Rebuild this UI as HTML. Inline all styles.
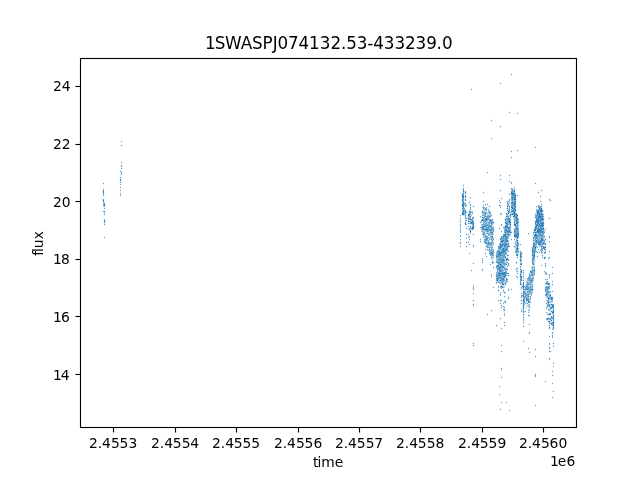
<!DOCTYPE html>
<html lang="en">
<head>
<meta charset="utf-8">
<title>1SWASPJ074132.53-433239.0</title>
<style>
html,body{margin:0;padding:0;background:#fff;}
body{width:640px;height:480px;overflow:hidden;}
svg{display:block;will-change:transform;}
text{font-family:'DejaVu Sans','Liberation Sans',sans-serif;fill:#000;font-variant-ligatures:none;font-kerning:none;}
.t{font-size:13.889px;}
.tt{font-size:16.78px;}
.ax{stroke:#000;stroke-width:1.111;fill:none;}
</style>
</head>
<body>
<svg width="640" height="480" viewBox="0 0 640 480">
<rect x="0" y="0" width="640" height="480" fill="#fff"/>
<g id="pts" fill="none" stroke="#1f77b4" stroke-width="1.35" stroke-linecap="round">
<g stroke-opacity="0.42">
<path d="M462.5 209.5h0M463.5 192.5h0M463.5 200.5h0M463.5 204.5h0M463.5 209.5h0M463.5 212.5h0M468.5 229.5h0M469.5 215.5h0M469.5 223.5h0M469.5 228.5h0M470.5 222.5h0M471.5 215.5h0M472.5 211.5h0M472.5 212.5h0M473.5 218.5h0M473.5 220.5h0M481.5 224.5h0M481.5 231.5h0M482.5 207.5h0M482.5 224.5h0M482.5 229.5h0M482.5 230.5h0M482.5 233.5h0M482.5 234.5h0M483.5 208.5h0M483.5 217.5h0M483.5 219.5h0M483.5 223.5h0M483.5 231.5h0M484.5 207.5h0M484.5 208.5h0M484.5 209.5h0M484.5 210.5h0M484.5 211.5h0M484.5 212.5h0M484.5 215.5h0M484.5 216.5h0M484.5 219.5h0M484.5 225.5h0M485.5 211.5h0M485.5 227.5h0M485.5 228.5h0M485.5 230.5h0M485.5 231.5h0M485.5 234.5h0M485.5 237.5h0M485.5 238.5h0M485.5 240.5h0M486.5 210.5h0M486.5 212.5h0M486.5 213.5h0M486.5 216.5h0M486.5 217.5h0M486.5 222.5h0M486.5 231.5h0M486.5 233.5h0M486.5 237.5h0M487.5 213.5h0M487.5 215.5h0M487.5 217.5h0M487.5 222.5h0M487.5 225.5h0M487.5 226.5h0M487.5 227.5h0M487.5 230.5h0M487.5 232.5h0M487.5 237.5h0M487.5 240.5h0M487.5 242.5h0M487.5 243.5h0M487.5 246.5h0M488.5 209.5h0M488.5 214.5h0M488.5 215.5h0M488.5 218.5h0M488.5 223.5h0M488.5 224.5h0M488.5 229.5h0M488.5 237.5h0M488.5 245.5h0M488.5 250.5h0M489.5 213.5h0M489.5 215.5h0M489.5 217.5h0M489.5 221.5h0M489.5 224.5h0M489.5 227.5h0M489.5 232.5h0M489.5 237.5h0M489.5 244.5h0M489.5 247.5h0M489.5 248.5h0M490.5 214.5h0M490.5 215.5h0M490.5 225.5h0M490.5 227.5h0M490.5 228.5h0M490.5 229.5h0M490.5 231.5h0M490.5 233.5h0M490.5 234.5h0M490.5 235.5h0M490.5 236.5h0M490.5 237.5h0M490.5 242.5h0M490.5 244.5h0M490.5 247.5h0M490.5 253.5h0M491.5 222.5h0M491.5 227.5h0M491.5 229.5h0M491.5 231.5h0M491.5 234.5h0M491.5 240.5h0M491.5 241.5h0M491.5 243.5h0M491.5 248.5h0M491.5 250.5h0M491.5 255.5h0M491.5 256.5h0M492.5 224.5h0M492.5 238.5h0M492.5 241.5h0M492.5 246.5h0M492.5 252.5h0M492.5 255.5h0M492.5 256.5h0M492.5 259.5h0M492.5 261.5h0M492.5 263.5h0M493.5 221.5h0M493.5 226.5h0M493.5 234.5h0M493.5 238.5h0M493.5 249.5h0M493.5 250.5h0M496.5 252.5h0M496.5 253.5h0M496.5 255.5h0M496.5 258.5h0M496.5 262.5h0M496.5 265.5h0M496.5 267.5h0M496.5 268.5h0M496.5 279.5h0M496.5 283.5h0M497.5 250.5h0M497.5 256.5h0M497.5 257.5h0M497.5 258.5h0M497.5 263.5h0M497.5 268.5h0M497.5 273.5h0M497.5 276.5h0M497.5 278.5h0M497.5 281.5h0M498.5 247.5h0M498.5 253.5h0M498.5 257.5h0M498.5 258.5h0M498.5 260.5h0M498.5 261.5h0M498.5 264.5h0M498.5 266.5h0M498.5 267.5h0M498.5 272.5h0M498.5 281.5h0M498.5 287.5h0M499.5 243.5h0M499.5 245.5h0M499.5 249.5h0M499.5 256.5h0M499.5 265.5h0M499.5 266.5h0M499.5 270.5h0M499.5 277.5h0M500.5 249.5h0M500.5 256.5h0M500.5 260.5h0M500.5 263.5h0M500.5 265.5h0M500.5 276.5h0M500.5 281.5h0M500.5 286.5h0M500.5 287.5h0M501.5 245.5h0M501.5 251.5h0M501.5 256.5h0M501.5 257.5h0M501.5 263.5h0M501.5 264.5h0M501.5 266.5h0M501.5 267.5h0M501.5 268.5h0M501.5 271.5h0M501.5 272.5h0M501.5 276.5h0M501.5 277.5h0M501.5 280.5h0M501.5 282.5h0M501.5 284.5h0M501.5 288.5h0M502.5 243.5h0M502.5 251.5h0M502.5 253.5h0M502.5 257.5h0M502.5 258.5h0M502.5 263.5h0M502.5 264.5h0M502.5 265.5h0M502.5 270.5h0M503.5 235.5h0M503.5 239.5h0M503.5 241.5h0M503.5 242.5h0M503.5 243.5h0M503.5 246.5h0M503.5 247.5h0M503.5 253.5h0M503.5 256.5h0M503.5 258.5h0M503.5 261.5h0M503.5 275.5h0M503.5 277.5h0M503.5 282.5h0M503.5 291.5h0M504.5 227.5h0M504.5 231.5h0M504.5 239.5h0M504.5 240.5h0M504.5 243.5h0M504.5 252.5h0M504.5 257.5h0M504.5 259.5h0M504.5 262.5h0M504.5 267.5h0M504.5 278.5h0M504.5 279.5h0M504.5 286.5h0M505.5 223.5h0M505.5 228.5h0M505.5 235.5h0M505.5 246.5h0M505.5 248.5h0M505.5 250.5h0M505.5 256.5h0M505.5 258.5h0M505.5 259.5h0M505.5 264.5h0M505.5 266.5h0M505.5 269.5h0M505.5 271.5h0M505.5 273.5h0M505.5 293.5h0M506.5 214.5h0M506.5 219.5h0M506.5 220.5h0M506.5 228.5h0M506.5 239.5h0M506.5 242.5h0M506.5 243.5h0M506.5 245.5h0M506.5 247.5h0M507.5 201.5h0M507.5 217.5h0M507.5 218.5h0M507.5 222.5h0M507.5 228.5h0M507.5 238.5h0M507.5 239.5h0M507.5 242.5h0M507.5 245.5h0M508.5 203.5h0M508.5 209.5h0M508.5 222.5h0M508.5 223.5h0M508.5 226.5h0M508.5 232.5h0M508.5 235.5h0M508.5 237.5h0M508.5 238.5h0M508.5 240.5h0M508.5 241.5h0M508.5 245.5h0M509.5 202.5h0M509.5 203.5h0M509.5 207.5h0M509.5 209.5h0M509.5 215.5h0M509.5 223.5h0M509.5 224.5h0M509.5 226.5h0M509.5 230.5h0M509.5 234.5h0M510.5 212.5h0M510.5 217.5h0M510.5 221.5h0M510.5 223.5h0M510.5 225.5h0M511.5 197.5h0"/>
<path d="M511.5 200.5h0M511.5 204.5h0M512.5 190.5h0M512.5 195.5h0M512.5 204.5h0M512.5 209.5h0M512.5 210.5h0M513.5 190.5h0M513.5 196.5h0M513.5 197.5h0M513.5 200.5h0M513.5 201.5h0M513.5 202.5h0M513.5 205.5h0M513.5 206.5h0M513.5 207.5h0M514.5 192.5h0M514.5 194.5h0M514.5 201.5h0M514.5 204.5h0M514.5 217.5h0M514.5 221.5h0M514.5 223.5h0M514.5 230.5h0M514.5 233.5h0M515.5 193.5h0M515.5 194.5h0M515.5 215.5h0M515.5 218.5h0M515.5 219.5h0M515.5 220.5h0M515.5 221.5h0M515.5 223.5h0M515.5 226.5h0M515.5 227.5h0M515.5 229.5h0M515.5 232.5h0M515.5 241.5h0M515.5 242.5h0M515.5 244.5h0M515.5 249.5h0M516.5 225.5h0M516.5 231.5h0M516.5 234.5h0M516.5 237.5h0M516.5 240.5h0M516.5 243.5h0M516.5 250.5h0M517.5 216.5h0M517.5 217.5h0M517.5 221.5h0M517.5 224.5h0M517.5 226.5h0M517.5 227.5h0M517.5 235.5h0M517.5 253.5h0M518.5 224.5h0M518.5 225.5h0M518.5 226.5h0M518.5 229.5h0M518.5 230.5h0M518.5 236.5h0M518.5 245.5h0M520.5 261.5h0M520.5 280.5h0M523.5 298.5h0M523.5 310.5h0M524.5 289.5h0M524.5 292.5h0M524.5 294.5h0M524.5 299.5h0M524.5 301.5h0M524.5 304.5h0M525.5 286.5h0M525.5 293.5h0M525.5 295.5h0M525.5 297.5h0M525.5 298.5h0M525.5 302.5h0M525.5 303.5h0M526.5 281.5h0M526.5 283.5h0M526.5 286.5h0M526.5 292.5h0M526.5 293.5h0M526.5 294.5h0M526.5 297.5h0M526.5 301.5h0M526.5 303.5h0M526.5 307.5h0M527.5 278.5h0M527.5 279.5h0M527.5 280.5h0M527.5 281.5h0M527.5 283.5h0M527.5 285.5h0M527.5 288.5h0M527.5 292.5h0M527.5 293.5h0M527.5 295.5h0M527.5 305.5h0M528.5 282.5h0M528.5 286.5h0M528.5 290.5h0M528.5 291.5h0M528.5 295.5h0M528.5 298.5h0M528.5 300.5h0M528.5 304.5h0M529.5 281.5h0M529.5 283.5h0M529.5 285.5h0M529.5 288.5h0M529.5 290.5h0M529.5 292.5h0M529.5 293.5h0M529.5 294.5h0M529.5 296.5h0M529.5 299.5h0M529.5 302.5h0M529.5 304.5h0M530.5 272.5h0M530.5 276.5h0M530.5 278.5h0M530.5 281.5h0M530.5 283.5h0M530.5 289.5h0M530.5 292.5h0M530.5 297.5h0M530.5 299.5h0M531.5 267.5h0M531.5 270.5h0M531.5 273.5h0M531.5 278.5h0M531.5 282.5h0M531.5 283.5h0M531.5 284.5h0M531.5 287.5h0M531.5 288.5h0M531.5 292.5h0M531.5 293.5h0M531.5 295.5h0M532.5 258.5h0M532.5 263.5h0M532.5 265.5h0M532.5 266.5h0M532.5 272.5h0M532.5 273.5h0M532.5 277.5h0M532.5 279.5h0M532.5 280.5h0M532.5 282.5h0M532.5 287.5h0M532.5 288.5h0M533.5 243.5h0M533.5 245.5h0M533.5 259.5h0M533.5 262.5h0M533.5 267.5h0M533.5 269.5h0M533.5 278.5h0M533.5 279.5h0M533.5 280.5h0M534.5 228.5h0M534.5 231.5h0M534.5 232.5h0M534.5 237.5h0M534.5 239.5h0M534.5 242.5h0M534.5 251.5h0M534.5 258.5h0M534.5 262.5h0M534.5 264.5h0M534.5 266.5h0M534.5 269.5h0M534.5 272.5h0M534.5 274.5h0M535.5 215.5h0M535.5 216.5h0M535.5 222.5h0M535.5 243.5h0M536.5 213.5h0M536.5 218.5h0M536.5 229.5h0M536.5 231.5h0M536.5 233.5h0M536.5 234.5h0M537.5 216.5h0M537.5 217.5h0M537.5 222.5h0M537.5 226.5h0M537.5 227.5h0M537.5 234.5h0M537.5 237.5h0M537.5 239.5h0M537.5 240.5h0M538.5 206.5h0M538.5 209.5h0M538.5 219.5h0M538.5 224.5h0M538.5 225.5h0M538.5 227.5h0M538.5 234.5h0M538.5 235.5h0M538.5 237.5h0M538.5 241.5h0M539.5 207.5h0M539.5 210.5h0M539.5 211.5h0M539.5 218.5h0M539.5 220.5h0M539.5 221.5h0M539.5 227.5h0M539.5 228.5h0M539.5 230.5h0M539.5 236.5h0M539.5 237.5h0M539.5 239.5h0M540.5 212.5h0M540.5 213.5h0M540.5 215.5h0M540.5 218.5h0M540.5 222.5h0M540.5 224.5h0M540.5 229.5h0M540.5 233.5h0M540.5 236.5h0M540.5 237.5h0M540.5 238.5h0M541.5 212.5h0M541.5 217.5h0M541.5 227.5h0M541.5 233.5h0M541.5 234.5h0M541.5 237.5h0M541.5 243.5h0M542.5 213.5h0M542.5 215.5h0M542.5 235.5h0M542.5 237.5h0M543.5 234.5h0M543.5 239.5h0M543.5 244.5h0M544.5 231.5h0M544.5 237.5h0M545.5 283.5h0M545.5 284.5h0M545.5 288.5h0M545.5 294.5h0M546.5 292.5h0M546.5 295.5h0M546.5 296.5h0M546.5 297.5h0M546.5 300.5h0M546.5 307.5h0M547.5 282.5h0M547.5 286.5h0M547.5 290.5h0M547.5 296.5h0M547.5 304.5h0M548.5 286.5h0M548.5 300.5h0M548.5 303.5h0M549.5 292.5h0M549.5 293.5h0M549.5 297.5h0M549.5 301.5h0M549.5 302.5h0M549.5 307.5h0M550.5 291.5h0M550.5 292.5h0M550.5 294.5h0M550.5 299.5h0M550.5 301.5h0M550.5 302.5h0M552.5 299.5h0M552.5 300.5h0M553.5 304.5h0M553.5 308.5h0M553.5 314.5h0"/>
</g>
<g stroke-opacity="0.68">
<path d="M103.5 183.5h0M103.5 189.5h0M103.5 190.5h0M103.5 193.5h0M103.5 194.5h0M103.5 195.5h0M103.5 199.5h0M103.5 201.5h0M103.5 202.5h0M103.5 204.5h0M103.5 205.5h0M103.5 211.5h0M104.5 203.5h0M104.5 205.5h0M104.5 206.5h0M104.5 208.5h0M104.5 211.5h0M104.5 212.5h0M104.5 214.5h0M104.5 219.5h0M104.5 220.5h0M104.5 222.5h0M104.5 224.5h0M104.5 237.5h0M120.5 171.5h0M120.5 177.5h0M120.5 179.5h0M120.5 182.5h0M120.5 184.5h0M120.5 187.5h0M120.5 190.5h0M120.5 193.5h0M120.5 195.5h0M121.5 141.5h0M121.5 145.5h0M121.5 162.5h0M121.5 165.5h0M121.5 166.5h0M121.5 168.5h0M121.5 172.5h0M121.5 173.5h0M121.5 174.5h0M460.5 215.5h0M460.5 218.5h0M460.5 220.5h0M460.5 222.5h0M460.5 224.5h0M460.5 226.5h0M460.5 228.5h0M460.5 230.5h0M460.5 231.5h0M460.5 232.5h0M460.5 235.5h0M460.5 236.5h0M460.5 239.5h0M460.5 242.5h0M460.5 243.5h0M460.5 246.5h0M462.5 195.5h0M462.5 201.5h0M462.5 203.5h0M462.5 206.5h0M462.5 208.5h0M462.5 211.5h0M462.5 212.5h0M463.5 185.5h0M463.5 188.5h0M463.5 189.5h0M463.5 196.5h0M463.5 198.5h0M463.5 199.5h0M463.5 201.5h0M463.5 208.5h0M464.5 203.5h0M464.5 204.5h0M464.5 208.5h0M464.5 209.5h0M464.5 210.5h0M464.5 212.5h0M464.5 214.5h0M465.5 191.5h0M465.5 193.5h0M465.5 195.5h0M465.5 197.5h0M465.5 200.5h0M465.5 203.5h0M465.5 205.5h0M465.5 206.5h0M465.5 210.5h0M465.5 212.5h0M465.5 213.5h0M465.5 215.5h0M465.5 216.5h0M465.5 217.5h0M465.5 218.5h0M465.5 220.5h0M465.5 222.5h0M465.5 224.5h0M466.5 205.5h0M466.5 212.5h0M466.5 218.5h0M466.5 220.5h0M466.5 224.5h0M466.5 228.5h0M466.5 234.5h0M466.5 238.5h0M466.5 242.5h0M466.5 246.5h0M468.5 214.5h0M468.5 218.5h0M468.5 219.5h0M468.5 223.5h0M468.5 226.5h0M468.5 234.5h0M468.5 237.5h0M468.5 242.5h0M469.5 202.5h0M469.5 212.5h0M469.5 213.5h0M469.5 216.5h0M469.5 218.5h0M469.5 219.5h0M469.5 221.5h0M469.5 229.5h0M469.5 236.5h0M469.5 239.5h0M469.5 244.5h0M469.5 253.5h0M470.5 197.5h0M470.5 204.5h0M470.5 205.5h0M470.5 207.5h0M470.5 208.5h0M470.5 209.5h0M470.5 211.5h0M470.5 212.5h0M470.5 214.5h0M470.5 218.5h0M470.5 221.5h0M470.5 223.5h0M470.5 226.5h0M470.5 227.5h0M470.5 228.5h0M470.5 230.5h0M470.5 232.5h0M471.5 89.5h0M471.5 212.5h0M471.5 219.5h0M471.5 220.5h0M471.5 228.5h0M471.5 270.5h0M472.5 213.5h0M472.5 217.5h0M472.5 218.5h0M472.5 219.5h0M472.5 220.5h0M472.5 222.5h0M472.5 223.5h0M472.5 224.5h0M472.5 226.5h0M472.5 229.5h0M473.5 206.5h0M473.5 217.5h0M473.5 224.5h0M473.5 226.5h0M473.5 234.5h0M473.5 245.5h0M473.5 246.5h0M473.5 263.5h0M473.5 285.5h0M473.5 287.5h0M473.5 288.5h0M473.5 289.5h0M473.5 293.5h0M473.5 300.5h0M473.5 304.5h0M473.5 305.5h0M473.5 343.5h0M473.5 345.5h0M480.5 216.5h0M480.5 222.5h0M480.5 227.5h0M480.5 239.5h0M480.5 241.5h0M481.5 220.5h0M481.5 221.5h0M481.5 227.5h0M481.5 229.5h0M482.5 212.5h0M482.5 213.5h0M482.5 215.5h0M482.5 225.5h0M482.5 226.5h0M482.5 228.5h0M482.5 231.5h0M482.5 258.5h0M482.5 260.5h0M482.5 262.5h0M482.5 269.5h0M482.5 270.5h0M483.5 192.5h0M483.5 201.5h0M483.5 205.5h0M483.5 207.5h0M483.5 209.5h0M483.5 212.5h0M483.5 213.5h0M483.5 215.5h0M483.5 218.5h0M483.5 220.5h0M483.5 221.5h0M483.5 222.5h0M483.5 224.5h0M483.5 227.5h0M483.5 228.5h0M483.5 232.5h0M483.5 233.5h0M483.5 234.5h0M483.5 235.5h0M483.5 237.5h0M484.5 214.5h0M484.5 217.5h0M484.5 220.5h0M484.5 222.5h0M484.5 224.5h0M484.5 228.5h0M484.5 229.5h0M484.5 230.5h0M484.5 232.5h0M484.5 233.5h0M484.5 234.5h0M484.5 236.5h0M484.5 239.5h0M484.5 240.5h0M484.5 241.5h0M484.5 242.5h0M485.5 204.5h0M485.5 208.5h0M485.5 209.5h0M485.5 212.5h0M485.5 214.5h0M485.5 215.5h0M485.5 218.5h0M485.5 220.5h0M485.5 221.5h0M485.5 223.5h0M485.5 224.5h0M485.5 225.5h0M485.5 226.5h0M485.5 229.5h0M485.5 235.5h0M485.5 236.5h0M485.5 239.5h0M485.5 241.5h0M485.5 242.5h0M485.5 243.5h0M485.5 249.5h0M485.5 253.5h0M486.5 207.5h0M486.5 208.5h0M486.5 209.5h0M486.5 219.5h0M486.5 220.5h0M486.5 221.5h0M486.5 223.5h0M486.5 226.5h0M486.5 227.5h0M486.5 228.5h0M486.5 230.5h0M486.5 236.5h0M486.5 239.5h0M486.5 240.5h0M486.5 243.5h0M486.5 256.5h0M487.5 172.5h0M487.5 204.5h0M487.5 216.5h0M487.5 218.5h0M487.5 219.5h0M487.5 220.5h0M487.5 224.5h0M487.5 228.5h0M487.5 231.5h0M487.5 233.5h0M487.5 236.5h0M487.5 238.5h0M487.5 239.5h0M487.5 244.5h0M487.5 245.5h0M487.5 247.5h0M487.5 249.5h0M487.5 314.5h0M488.5 210.5h0M488.5 212.5h0M488.5 216.5h0M488.5 217.5h0M488.5 219.5h0M488.5 222.5h0M488.5 225.5h0M488.5 226.5h0"/>
<path d="M488.5 227.5h0M488.5 228.5h0M488.5 230.5h0M488.5 231.5h0M488.5 233.5h0M488.5 234.5h0M488.5 235.5h0M488.5 240.5h0M488.5 241.5h0M488.5 242.5h0M488.5 244.5h0M488.5 247.5h0M489.5 206.5h0M489.5 211.5h0M489.5 212.5h0M489.5 216.5h0M489.5 219.5h0M489.5 220.5h0M489.5 222.5h0M489.5 223.5h0M489.5 225.5h0M489.5 226.5h0M489.5 228.5h0M489.5 229.5h0M489.5 230.5h0M489.5 234.5h0M489.5 238.5h0M489.5 239.5h0M489.5 242.5h0M489.5 243.5h0M489.5 246.5h0M489.5 251.5h0M489.5 253.5h0M490.5 212.5h0M490.5 213.5h0M490.5 216.5h0M490.5 219.5h0M490.5 221.5h0M490.5 222.5h0M490.5 232.5h0M490.5 243.5h0M490.5 245.5h0M490.5 250.5h0M490.5 251.5h0M490.5 252.5h0M490.5 254.5h0M490.5 255.5h0M490.5 264.5h0M491.5 120.5h0M491.5 138.5h0M491.5 215.5h0M491.5 220.5h0M491.5 221.5h0M491.5 224.5h0M491.5 225.5h0M491.5 226.5h0M491.5 228.5h0M491.5 230.5h0M491.5 232.5h0M491.5 233.5h0M491.5 238.5h0M491.5 242.5h0M491.5 244.5h0M491.5 245.5h0M491.5 247.5h0M491.5 249.5h0M491.5 253.5h0M491.5 254.5h0M491.5 257.5h0M491.5 258.5h0M491.5 274.5h0M491.5 276.5h0M491.5 310.5h0M492.5 221.5h0M492.5 222.5h0M492.5 223.5h0M492.5 227.5h0M492.5 228.5h0M492.5 229.5h0M492.5 230.5h0M492.5 233.5h0M492.5 234.5h0M492.5 236.5h0M492.5 240.5h0M492.5 243.5h0M492.5 247.5h0M492.5 249.5h0M492.5 250.5h0M492.5 251.5h0M492.5 254.5h0M493.5 222.5h0M493.5 228.5h0M493.5 229.5h0M493.5 230.5h0M493.5 231.5h0M493.5 239.5h0M493.5 242.5h0M493.5 244.5h0M493.5 251.5h0M493.5 252.5h0M493.5 253.5h0M493.5 255.5h0M493.5 257.5h0M493.5 262.5h0M493.5 267.5h0M493.5 287.5h0M496.5 254.5h0M496.5 257.5h0M496.5 260.5h0M496.5 261.5h0M496.5 266.5h0M496.5 272.5h0M496.5 280.5h0M496.5 282.5h0M496.5 325.5h0M497.5 252.5h0M497.5 253.5h0M497.5 254.5h0M497.5 255.5h0M497.5 259.5h0M497.5 261.5h0M497.5 262.5h0M497.5 265.5h0M497.5 267.5h0M497.5 269.5h0M497.5 270.5h0M497.5 271.5h0M497.5 272.5h0M497.5 277.5h0M497.5 279.5h0M498.5 246.5h0M498.5 248.5h0M498.5 250.5h0M498.5 251.5h0M498.5 252.5h0M498.5 255.5h0M498.5 262.5h0M498.5 263.5h0M498.5 268.5h0M498.5 269.5h0M498.5 274.5h0M498.5 275.5h0M498.5 276.5h0M498.5 277.5h0M498.5 279.5h0M498.5 282.5h0M498.5 286.5h0M498.5 300.5h0M499.5 200.5h0M499.5 205.5h0M499.5 228.5h0M499.5 246.5h0M499.5 247.5h0M499.5 248.5h0M499.5 250.5h0M499.5 251.5h0M499.5 254.5h0M499.5 255.5h0M499.5 257.5h0M499.5 258.5h0M499.5 259.5h0M499.5 260.5h0M499.5 261.5h0M499.5 263.5h0M499.5 264.5h0M499.5 268.5h0M499.5 272.5h0M499.5 274.5h0M499.5 276.5h0M499.5 278.5h0M499.5 280.5h0M499.5 282.5h0M499.5 386.5h0M499.5 394.5h0M500.5 83.5h0M500.5 126.5h0M500.5 175.5h0M500.5 179.5h0M500.5 190.5h0M500.5 202.5h0M500.5 205.5h0M500.5 207.5h0M500.5 213.5h0M500.5 238.5h0M500.5 241.5h0M500.5 243.5h0M500.5 246.5h0M500.5 248.5h0M500.5 251.5h0M500.5 252.5h0M500.5 254.5h0M500.5 257.5h0M500.5 258.5h0M500.5 259.5h0M500.5 261.5h0M500.5 262.5h0M500.5 268.5h0M500.5 271.5h0M500.5 272.5h0M500.5 273.5h0M500.5 274.5h0M500.5 275.5h0M500.5 277.5h0M500.5 278.5h0M500.5 283.5h0M500.5 292.5h0M500.5 294.5h0M500.5 295.5h0M500.5 300.5h0M500.5 303.5h0M500.5 318.5h0M500.5 409.5h0M501.5 198.5h0M501.5 214.5h0M501.5 224.5h0M501.5 225.5h0M501.5 231.5h0M501.5 236.5h0M501.5 237.5h0M501.5 240.5h0M501.5 242.5h0M501.5 244.5h0M501.5 247.5h0M501.5 249.5h0M501.5 250.5h0M501.5 253.5h0M501.5 254.5h0M501.5 255.5h0M501.5 258.5h0M501.5 259.5h0M501.5 260.5h0M501.5 261.5h0M501.5 262.5h0M501.5 269.5h0M501.5 270.5h0M501.5 274.5h0M501.5 275.5h0M501.5 281.5h0M501.5 287.5h0M501.5 300.5h0M501.5 305.5h0M501.5 307.5h0M501.5 328.5h0M501.5 345.5h0M501.5 351.5h0M501.5 368.5h0M501.5 369.5h0M501.5 377.5h0M501.5 402.5h0M502.5 236.5h0M502.5 238.5h0M502.5 239.5h0M502.5 240.5h0M502.5 242.5h0M502.5 245.5h0M502.5 246.5h0M502.5 248.5h0M502.5 249.5h0M502.5 252.5h0M502.5 254.5h0M502.5 255.5h0M502.5 256.5h0M502.5 259.5h0M502.5 261.5h0M502.5 262.5h0M502.5 266.5h0M502.5 268.5h0M502.5 269.5h0M502.5 271.5h0M502.5 272.5h0M502.5 274.5h0M502.5 275.5h0M502.5 276.5h0M502.5 277.5h0M502.5 278.5h0M502.5 279.5h0M502.5 280.5h0M502.5 282.5h0M502.5 286.5h0M502.5 287.5h0M503.5 227.5h0M503.5 234.5h0M503.5 238.5h0M503.5 250.5h0M503.5 254.5h0M503.5 255.5h0M503.5 257.5h0M503.5 260.5h0M503.5 262.5h0M503.5 263.5h0M503.5 264.5h0M503.5 267.5h0M503.5 270.5h0M503.5 272.5h0M503.5 274.5h0M503.5 276.5h0M503.5 278.5h0M503.5 280.5h0M503.5 281.5h0M503.5 287.5h0"/>
<path d="M503.5 290.5h0M503.5 303.5h0M503.5 306.5h0M503.5 309.5h0M504.5 228.5h0M504.5 230.5h0M504.5 232.5h0M504.5 234.5h0M504.5 236.5h0M504.5 238.5h0M504.5 241.5h0M504.5 242.5h0M504.5 244.5h0M504.5 246.5h0M504.5 247.5h0M504.5 248.5h0M504.5 249.5h0M504.5 255.5h0M504.5 256.5h0M504.5 260.5h0M504.5 261.5h0M504.5 263.5h0M504.5 264.5h0M504.5 265.5h0M504.5 268.5h0M504.5 269.5h0M504.5 274.5h0M504.5 275.5h0M504.5 280.5h0M504.5 283.5h0M504.5 296.5h0M504.5 301.5h0M504.5 307.5h0M504.5 309.5h0M504.5 310.5h0M504.5 313.5h0M504.5 315.5h0M504.5 322.5h0M504.5 325.5h0M505.5 218.5h0M505.5 219.5h0M505.5 225.5h0M505.5 230.5h0M505.5 231.5h0M505.5 232.5h0M505.5 233.5h0M505.5 237.5h0M505.5 238.5h0M505.5 240.5h0M505.5 241.5h0M505.5 242.5h0M505.5 245.5h0M505.5 247.5h0M505.5 249.5h0M505.5 251.5h0M505.5 252.5h0M505.5 263.5h0M505.5 268.5h0M505.5 270.5h0M505.5 274.5h0M505.5 276.5h0M505.5 281.5h0M505.5 282.5h0M505.5 301.5h0M505.5 302.5h0M506.5 218.5h0M506.5 221.5h0M506.5 222.5h0M506.5 224.5h0M506.5 225.5h0M506.5 227.5h0M506.5 229.5h0M506.5 231.5h0M506.5 232.5h0M506.5 234.5h0M506.5 235.5h0M506.5 236.5h0M506.5 241.5h0M506.5 246.5h0M506.5 248.5h0M506.5 250.5h0M506.5 252.5h0M506.5 254.5h0M506.5 258.5h0M506.5 259.5h0M506.5 262.5h0M506.5 268.5h0M506.5 269.5h0M506.5 271.5h0M506.5 272.5h0M506.5 273.5h0M506.5 275.5h0M506.5 280.5h0M506.5 282.5h0M506.5 402.5h0M507.5 202.5h0M507.5 203.5h0M507.5 205.5h0M507.5 214.5h0M507.5 215.5h0M507.5 216.5h0M507.5 219.5h0M507.5 221.5h0M507.5 223.5h0M507.5 224.5h0M507.5 225.5h0M507.5 226.5h0M507.5 230.5h0M507.5 232.5h0M507.5 233.5h0M507.5 234.5h0M507.5 236.5h0M507.5 237.5h0M507.5 240.5h0M507.5 244.5h0M507.5 246.5h0M507.5 247.5h0M507.5 248.5h0M507.5 249.5h0M507.5 250.5h0M507.5 255.5h0M507.5 258.5h0M507.5 262.5h0M507.5 266.5h0M507.5 269.5h0M507.5 279.5h0M507.5 281.5h0M508.5 201.5h0M508.5 204.5h0M508.5 205.5h0M508.5 212.5h0M508.5 216.5h0M508.5 217.5h0M508.5 218.5h0M508.5 220.5h0M508.5 221.5h0M508.5 224.5h0M508.5 227.5h0M508.5 230.5h0M508.5 231.5h0M508.5 233.5h0M508.5 236.5h0M508.5 244.5h0M508.5 251.5h0M508.5 255.5h0M508.5 259.5h0M508.5 260.5h0M508.5 263.5h0M508.5 264.5h0M508.5 265.5h0M508.5 273.5h0M508.5 275.5h0M508.5 289.5h0M508.5 290.5h0M508.5 297.5h0M508.5 298.5h0M509.5 112.5h0M509.5 175.5h0M509.5 181.5h0M509.5 194.5h0M509.5 199.5h0M509.5 200.5h0M509.5 206.5h0M509.5 208.5h0M509.5 210.5h0M509.5 211.5h0M509.5 212.5h0M509.5 219.5h0M509.5 220.5h0M509.5 227.5h0M509.5 228.5h0M509.5 229.5h0M509.5 232.5h0M509.5 235.5h0M509.5 246.5h0M509.5 410.5h0M510.5 215.5h0M510.5 216.5h0M510.5 219.5h0M510.5 220.5h0M510.5 226.5h0M510.5 227.5h0M510.5 228.5h0M510.5 230.5h0M510.5 231.5h0M510.5 234.5h0M511.5 74.5h0M511.5 151.5h0M511.5 157.5h0M511.5 182.5h0M511.5 183.5h0M511.5 188.5h0M511.5 189.5h0M511.5 191.5h0M511.5 196.5h0M511.5 198.5h0M511.5 199.5h0M511.5 203.5h0M511.5 205.5h0M511.5 206.5h0M511.5 209.5h0M511.5 210.5h0M511.5 211.5h0M511.5 212.5h0M511.5 214.5h0M511.5 232.5h0M511.5 239.5h0M511.5 289.5h0M512.5 191.5h0M512.5 192.5h0M512.5 196.5h0M512.5 199.5h0M512.5 200.5h0M512.5 201.5h0M512.5 203.5h0M512.5 205.5h0M512.5 206.5h0M512.5 213.5h0M513.5 191.5h0M513.5 192.5h0M513.5 193.5h0M513.5 195.5h0M513.5 198.5h0M513.5 199.5h0M513.5 203.5h0M513.5 208.5h0M513.5 209.5h0M513.5 211.5h0M513.5 212.5h0M513.5 213.5h0M513.5 214.5h0M514.5 187.5h0M514.5 189.5h0M514.5 190.5h0M514.5 196.5h0M514.5 198.5h0M514.5 200.5h0M514.5 206.5h0M514.5 207.5h0M514.5 209.5h0M514.5 210.5h0M514.5 211.5h0M514.5 214.5h0M514.5 218.5h0M514.5 219.5h0M514.5 220.5h0M514.5 225.5h0M514.5 232.5h0M514.5 235.5h0M514.5 239.5h0M515.5 196.5h0M515.5 198.5h0M515.5 202.5h0M515.5 203.5h0M515.5 207.5h0M515.5 211.5h0M515.5 214.5h0M515.5 216.5h0M515.5 217.5h0M515.5 228.5h0M515.5 230.5h0M515.5 231.5h0M515.5 233.5h0M515.5 234.5h0M515.5 237.5h0M515.5 243.5h0M515.5 247.5h0M515.5 251.5h0M515.5 252.5h0M516.5 215.5h0M516.5 216.5h0M516.5 218.5h0M516.5 221.5h0M516.5 222.5h0M516.5 226.5h0M516.5 228.5h0M516.5 229.5h0M516.5 230.5h0M516.5 232.5h0M516.5 233.5h0M516.5 236.5h0M516.5 239.5h0M516.5 241.5h0M516.5 248.5h0M516.5 249.5h0M516.5 251.5h0M516.5 252.5h0M516.5 254.5h0M516.5 255.5h0M516.5 268.5h0M516.5 270.5h0M516.5 276.5h0M517.5 113.5h0M517.5 150.5h0M517.5 195.5h0M517.5 218.5h0M517.5 220.5h0M517.5 225.5h0M517.5 230.5h0M517.5 231.5h0"/>
<path d="M517.5 232.5h0M517.5 233.5h0M517.5 241.5h0M517.5 243.5h0M517.5 244.5h0M517.5 247.5h0M517.5 251.5h0M517.5 257.5h0M517.5 268.5h0M517.5 271.5h0M517.5 273.5h0M517.5 277.5h0M518.5 219.5h0M518.5 221.5h0M518.5 222.5h0M518.5 228.5h0M518.5 231.5h0M518.5 232.5h0M518.5 235.5h0M518.5 237.5h0M518.5 243.5h0M518.5 244.5h0M518.5 248.5h0M518.5 251.5h0M518.5 252.5h0M520.5 244.5h0M520.5 251.5h0M520.5 252.5h0M520.5 253.5h0M520.5 254.5h0M520.5 257.5h0M520.5 258.5h0M520.5 260.5h0M520.5 263.5h0M520.5 264.5h0M520.5 266.5h0M520.5 267.5h0M520.5 271.5h0M520.5 272.5h0M520.5 277.5h0M520.5 281.5h0M520.5 282.5h0M521.5 252.5h0M521.5 253.5h0M521.5 256.5h0M521.5 257.5h0M521.5 260.5h0M521.5 261.5h0M521.5 263.5h0M521.5 270.5h0M521.5 272.5h0M521.5 273.5h0M521.5 276.5h0M521.5 278.5h0M521.5 279.5h0M521.5 284.5h0M521.5 287.5h0M521.5 288.5h0M521.5 293.5h0M521.5 295.5h0M521.5 296.5h0M521.5 297.5h0M521.5 303.5h0M521.5 309.5h0M521.5 311.5h0M522.5 295.5h0M523.5 270.5h0M523.5 272.5h0M523.5 274.5h0M523.5 276.5h0M523.5 278.5h0M523.5 280.5h0M523.5 288.5h0M523.5 293.5h0M523.5 294.5h0M523.5 297.5h0M523.5 299.5h0M523.5 302.5h0M523.5 304.5h0M523.5 308.5h0M523.5 309.5h0M523.5 312.5h0M523.5 314.5h0M523.5 315.5h0M523.5 317.5h0M523.5 319.5h0M523.5 320.5h0M523.5 322.5h0M523.5 326.5h0M523.5 341.5h0M524.5 286.5h0M524.5 291.5h0M524.5 293.5h0M524.5 296.5h0M524.5 297.5h0M524.5 298.5h0M524.5 300.5h0M524.5 302.5h0M525.5 287.5h0M525.5 288.5h0M525.5 289.5h0M525.5 290.5h0M525.5 292.5h0M525.5 294.5h0M525.5 296.5h0M525.5 311.5h0M526.5 284.5h0M526.5 285.5h0M526.5 287.5h0M526.5 288.5h0M526.5 295.5h0M526.5 299.5h0M526.5 300.5h0M527.5 282.5h0M527.5 284.5h0M527.5 286.5h0M527.5 287.5h0M527.5 291.5h0M527.5 294.5h0M527.5 296.5h0M527.5 297.5h0M527.5 300.5h0M527.5 303.5h0M528.5 233.5h0M528.5 277.5h0M528.5 278.5h0M528.5 279.5h0M528.5 280.5h0M528.5 283.5h0M528.5 284.5h0M528.5 287.5h0M528.5 288.5h0M528.5 289.5h0M528.5 292.5h0M528.5 296.5h0M528.5 297.5h0M528.5 302.5h0M528.5 306.5h0M528.5 310.5h0M528.5 312.5h0M528.5 315.5h0M528.5 348.5h0M529.5 273.5h0M529.5 274.5h0M529.5 275.5h0M529.5 276.5h0M529.5 277.5h0M529.5 278.5h0M529.5 279.5h0M529.5 280.5h0M529.5 284.5h0M529.5 287.5h0M529.5 289.5h0M529.5 291.5h0M529.5 305.5h0M529.5 307.5h0M529.5 309.5h0M529.5 315.5h0M529.5 324.5h0M529.5 332.5h0M529.5 333.5h0M529.5 352.5h0M530.5 275.5h0M530.5 277.5h0M530.5 279.5h0M530.5 280.5h0M530.5 282.5h0M530.5 284.5h0M530.5 286.5h0M530.5 287.5h0M530.5 288.5h0M530.5 290.5h0M530.5 291.5h0M530.5 293.5h0M530.5 296.5h0M530.5 298.5h0M530.5 302.5h0M531.5 271.5h0M531.5 274.5h0M531.5 275.5h0M531.5 279.5h0M531.5 281.5h0M531.5 286.5h0M531.5 289.5h0M531.5 290.5h0M531.5 294.5h0M532.5 247.5h0M532.5 248.5h0M532.5 250.5h0M532.5 252.5h0M532.5 253.5h0M532.5 254.5h0M532.5 257.5h0M532.5 260.5h0M532.5 261.5h0M532.5 267.5h0M532.5 268.5h0M532.5 269.5h0M532.5 270.5h0M532.5 271.5h0M532.5 274.5h0M532.5 278.5h0M532.5 281.5h0M532.5 284.5h0M532.5 285.5h0M532.5 286.5h0M532.5 290.5h0M532.5 292.5h0M533.5 234.5h0M533.5 237.5h0M533.5 240.5h0M533.5 242.5h0M533.5 247.5h0M533.5 248.5h0M533.5 249.5h0M533.5 250.5h0M533.5 251.5h0M533.5 252.5h0M533.5 253.5h0M533.5 254.5h0M533.5 255.5h0M533.5 260.5h0M533.5 263.5h0M533.5 270.5h0M533.5 272.5h0M533.5 274.5h0M533.5 275.5h0M533.5 277.5h0M534.5 229.5h0M534.5 236.5h0M534.5 240.5h0M534.5 243.5h0M534.5 244.5h0M534.5 246.5h0M534.5 247.5h0M534.5 248.5h0M534.5 249.5h0M534.5 250.5h0M534.5 254.5h0M534.5 257.5h0M534.5 260.5h0M534.5 267.5h0M534.5 268.5h0M534.5 271.5h0M534.5 273.5h0M535.5 147.5h0M535.5 183.5h0M535.5 214.5h0M535.5 224.5h0M535.5 233.5h0M535.5 236.5h0M535.5 237.5h0M535.5 238.5h0M535.5 239.5h0M535.5 244.5h0M535.5 246.5h0M535.5 249.5h0M535.5 250.5h0M535.5 251.5h0M535.5 349.5h0M535.5 356.5h0M535.5 374.5h0M535.5 375.5h0M535.5 376.5h0M535.5 405.5h0M536.5 206.5h0M536.5 209.5h0M536.5 211.5h0M536.5 215.5h0M536.5 216.5h0M536.5 217.5h0M536.5 220.5h0M536.5 222.5h0M536.5 224.5h0M536.5 227.5h0M536.5 228.5h0M536.5 232.5h0M536.5 236.5h0M536.5 238.5h0M536.5 241.5h0M536.5 242.5h0M536.5 243.5h0M536.5 244.5h0M536.5 246.5h0M536.5 251.5h0M537.5 215.5h0M537.5 219.5h0M537.5 225.5h0M537.5 228.5h0M537.5 229.5h0M537.5 232.5h0M537.5 235.5h0M537.5 236.5h0M537.5 238.5h0M537.5 241.5h0M537.5 247.5h0M537.5 252.5h0M537.5 256.5h0M538.5 192.5h0M538.5 205.5h0"/>
<path d="M538.5 207.5h0M538.5 210.5h0M538.5 214.5h0M538.5 215.5h0M538.5 223.5h0M538.5 228.5h0M538.5 233.5h0M538.5 236.5h0M538.5 239.5h0M538.5 240.5h0M538.5 242.5h0M538.5 244.5h0M538.5 249.5h0M539.5 206.5h0M539.5 209.5h0M539.5 212.5h0M539.5 213.5h0M539.5 215.5h0M539.5 217.5h0M539.5 219.5h0M539.5 222.5h0M539.5 223.5h0M539.5 226.5h0M539.5 232.5h0M539.5 233.5h0M539.5 234.5h0M539.5 235.5h0M539.5 238.5h0M539.5 240.5h0M539.5 241.5h0M539.5 243.5h0M539.5 246.5h0M539.5 252.5h0M540.5 196.5h0M540.5 201.5h0M540.5 206.5h0M540.5 207.5h0M540.5 208.5h0M540.5 209.5h0M540.5 223.5h0M540.5 225.5h0M540.5 226.5h0M540.5 227.5h0M540.5 232.5h0M540.5 234.5h0M540.5 240.5h0M540.5 242.5h0M540.5 243.5h0M540.5 244.5h0M540.5 245.5h0M540.5 250.5h0M541.5 190.5h0M541.5 204.5h0M541.5 206.5h0M541.5 214.5h0M541.5 215.5h0M541.5 219.5h0M541.5 220.5h0M541.5 221.5h0M541.5 222.5h0M541.5 224.5h0M541.5 226.5h0M541.5 228.5h0M541.5 230.5h0M541.5 231.5h0M541.5 235.5h0M541.5 236.5h0M541.5 238.5h0M541.5 240.5h0M541.5 241.5h0M541.5 242.5h0M541.5 244.5h0M541.5 245.5h0M541.5 246.5h0M541.5 247.5h0M541.5 248.5h0M541.5 251.5h0M541.5 252.5h0M541.5 265.5h0M542.5 211.5h0M542.5 214.5h0M542.5 216.5h0M542.5 217.5h0M542.5 220.5h0M542.5 222.5h0M542.5 224.5h0M542.5 229.5h0M542.5 232.5h0M542.5 233.5h0M542.5 234.5h0M542.5 236.5h0M542.5 238.5h0M542.5 241.5h0M542.5 243.5h0M542.5 244.5h0M542.5 246.5h0M542.5 248.5h0M542.5 250.5h0M542.5 252.5h0M542.5 255.5h0M542.5 257.5h0M543.5 214.5h0M543.5 216.5h0M543.5 218.5h0M543.5 219.5h0M543.5 220.5h0M543.5 223.5h0M543.5 224.5h0M543.5 227.5h0M543.5 229.5h0M543.5 230.5h0M543.5 231.5h0M543.5 232.5h0M543.5 233.5h0M543.5 235.5h0M543.5 237.5h0M543.5 240.5h0M543.5 242.5h0M543.5 246.5h0M543.5 248.5h0M544.5 232.5h0M544.5 236.5h0M544.5 240.5h0M544.5 241.5h0M544.5 242.5h0M544.5 243.5h0M544.5 246.5h0M544.5 247.5h0M544.5 248.5h0M544.5 252.5h0M544.5 253.5h0M544.5 257.5h0M544.5 271.5h0M545.5 229.5h0M545.5 243.5h0M545.5 249.5h0M545.5 251.5h0M545.5 252.5h0M545.5 257.5h0M545.5 263.5h0M545.5 265.5h0M545.5 266.5h0M545.5 272.5h0M545.5 273.5h0M545.5 279.5h0M545.5 287.5h0M545.5 290.5h0M545.5 291.5h0M545.5 295.5h0M545.5 381.5h0M546.5 273.5h0M546.5 274.5h0M546.5 282.5h0M546.5 286.5h0M546.5 287.5h0M546.5 288.5h0M546.5 290.5h0M546.5 291.5h0M546.5 303.5h0M546.5 308.5h0M546.5 312.5h0M546.5 319.5h0M547.5 279.5h0M547.5 281.5h0M547.5 283.5h0M547.5 284.5h0M547.5 287.5h0M547.5 288.5h0M547.5 289.5h0M547.5 291.5h0M547.5 292.5h0M547.5 293.5h0M547.5 294.5h0M547.5 295.5h0M547.5 297.5h0M547.5 300.5h0M547.5 302.5h0M547.5 305.5h0M547.5 314.5h0M547.5 319.5h0M548.5 258.5h0M548.5 284.5h0M548.5 288.5h0M548.5 289.5h0M548.5 291.5h0M548.5 292.5h0M548.5 294.5h0M548.5 297.5h0M548.5 299.5h0M548.5 301.5h0M548.5 304.5h0M548.5 305.5h0M548.5 314.5h0M549.5 199.5h0M549.5 218.5h0M549.5 236.5h0M549.5 237.5h0M549.5 241.5h0M549.5 251.5h0M549.5 257.5h0M549.5 274.5h0M549.5 275.5h0M549.5 277.5h0M549.5 283.5h0M549.5 284.5h0M549.5 288.5h0M549.5 291.5h0M549.5 295.5h0M549.5 296.5h0M549.5 298.5h0M549.5 304.5h0M549.5 305.5h0M549.5 306.5h0M549.5 310.5h0M549.5 313.5h0M549.5 318.5h0M549.5 319.5h0M549.5 323.5h0M549.5 325.5h0M549.5 328.5h0M549.5 336.5h0M549.5 343.5h0M549.5 344.5h0M549.5 347.5h0M549.5 348.5h0M549.5 351.5h0M549.5 358.5h0M549.5 359.5h0M550.5 200.5h0M550.5 296.5h0M550.5 298.5h0M550.5 305.5h0M550.5 307.5h0M550.5 308.5h0M550.5 309.5h0M550.5 313.5h0M550.5 314.5h0M550.5 318.5h0M550.5 319.5h0M550.5 322.5h0M550.5 351.5h0M551.5 298.5h0M551.5 301.5h0M551.5 308.5h0M551.5 317.5h0M551.5 318.5h0M551.5 324.5h0M552.5 267.5h0M552.5 273.5h0M552.5 281.5h0M552.5 284.5h0M552.5 291.5h0M552.5 297.5h0M552.5 301.5h0M552.5 304.5h0M552.5 306.5h0M552.5 311.5h0M552.5 313.5h0M552.5 317.5h0M552.5 318.5h0M552.5 324.5h0M552.5 325.5h0M552.5 329.5h0M552.5 332.5h0M552.5 333.5h0M552.5 335.5h0M552.5 336.5h0M552.5 337.5h0M552.5 371.5h0M552.5 375.5h0M552.5 383.5h0M552.5 397.5h0M553.5 305.5h0M553.5 307.5h0M553.5 309.5h0M553.5 311.5h0M553.5 320.5h0M553.5 321.5h0M553.5 323.5h0M553.5 325.5h0M553.5 326.5h0M553.5 343.5h0M553.5 346.5h0M553.5 363.5h0M553.5 366.5h0M553.5 391.5h0"/>
</g>
<g stroke-opacity="0.98">
<path d="M103.5 191.5h0M103.5 192.5h0M103.5 200.5h0M104.5 204.5h0M104.5 221.5h0M120.5 180.5h0M462.5 194.5h0M462.5 196.5h0M462.5 197.5h0M462.5 199.5h0M462.5 200.5h0M462.5 204.5h0M462.5 205.5h0M462.5 213.5h0M462.5 214.5h0M463.5 190.5h0M463.5 191.5h0M463.5 193.5h0M463.5 195.5h0M463.5 197.5h0M463.5 202.5h0M463.5 203.5h0M463.5 205.5h0M463.5 206.5h0M463.5 207.5h0M463.5 210.5h0M463.5 211.5h0M463.5 213.5h0M463.5 214.5h0M465.5 192.5h0M465.5 196.5h0M465.5 199.5h0M465.5 211.5h0M465.5 223.5h0M468.5 215.5h0M468.5 217.5h0M468.5 221.5h0M469.5 211.5h0M469.5 214.5h0M470.5 216.5h0M470.5 219.5h0M470.5 231.5h0M471.5 222.5h0M471.5 223.5h0M472.5 221.5h0M472.5 227.5h0M472.5 228.5h0M473.5 222.5h0M473.5 223.5h0M473.5 225.5h0M473.5 227.5h0M473.5 228.5h0M482.5 211.5h0M482.5 217.5h0M482.5 219.5h0M482.5 220.5h0M482.5 227.5h0M483.5 226.5h0M483.5 229.5h0M484.5 226.5h0M485.5 213.5h0M485.5 216.5h0M485.5 219.5h0M486.5 218.5h0M486.5 225.5h0M486.5 229.5h0M486.5 238.5h0M486.5 242.5h0M486.5 246.5h0M487.5 229.5h0M488.5 243.5h0M489.5 249.5h0M490.5 220.5h0M490.5 226.5h0M490.5 230.5h0M491.5 223.5h0M491.5 236.5h0M491.5 239.5h0M491.5 252.5h0M492.5 219.5h0M492.5 232.5h0M492.5 237.5h0M492.5 253.5h0M492.5 262.5h0M496.5 256.5h0M496.5 274.5h0M496.5 276.5h0M496.5 278.5h0M497.5 251.5h0M497.5 266.5h0M497.5 275.5h0M497.5 280.5h0M498.5 254.5h0M498.5 256.5h0M498.5 259.5h0M498.5 265.5h0M498.5 273.5h0M498.5 278.5h0M498.5 290.5h0M499.5 252.5h0M499.5 253.5h0M499.5 262.5h0M499.5 267.5h0M499.5 269.5h0M499.5 271.5h0M499.5 273.5h0M499.5 275.5h0M500.5 239.5h0M500.5 244.5h0M500.5 245.5h0M500.5 247.5h0M500.5 253.5h0M500.5 255.5h0M500.5 264.5h0M500.5 266.5h0M500.5 267.5h0M500.5 270.5h0M500.5 280.5h0M501.5 238.5h0M501.5 241.5h0M501.5 246.5h0M501.5 252.5h0M501.5 265.5h0M501.5 273.5h0M501.5 278.5h0M501.5 279.5h0M501.5 286.5h0M502.5 241.5h0M502.5 244.5h0M502.5 250.5h0M502.5 260.5h0M502.5 267.5h0M502.5 273.5h0M502.5 283.5h0M502.5 284.5h0M503.5 236.5h0M503.5 237.5h0M503.5 240.5h0M503.5 244.5h0M503.5 248.5h0M503.5 249.5h0M503.5 251.5h0M503.5 252.5h0M503.5 259.5h0M503.5 266.5h0M503.5 273.5h0M503.5 279.5h0M503.5 284.5h0M504.5 235.5h0M504.5 245.5h0M504.5 250.5h0M504.5 251.5h0M504.5 254.5h0M504.5 272.5h0M504.5 273.5h0M504.5 276.5h0M504.5 277.5h0M504.5 292.5h0M505.5 220.5h0M505.5 222.5h0M505.5 226.5h0M505.5 227.5h0M505.5 229.5h0M505.5 234.5h0M505.5 236.5h0M505.5 239.5h0M505.5 243.5h0M505.5 244.5h0M505.5 253.5h0M505.5 257.5h0M505.5 272.5h0M505.5 275.5h0M505.5 284.5h0M506.5 213.5h0M506.5 216.5h0M506.5 223.5h0M506.5 226.5h0M506.5 230.5h0M506.5 237.5h0M506.5 238.5h0M506.5 240.5h0M506.5 244.5h0M506.5 249.5h0M506.5 260.5h0M506.5 264.5h0M506.5 278.5h0M506.5 279.5h0M507.5 206.5h0M507.5 208.5h0M507.5 210.5h0M507.5 227.5h0M507.5 231.5h0M507.5 241.5h0M507.5 259.5h0M507.5 273.5h0M508.5 211.5h0M508.5 213.5h0M508.5 219.5h0M508.5 228.5h0M508.5 229.5h0M508.5 234.5h0M508.5 243.5h0M508.5 246.5h0M509.5 218.5h0M509.5 221.5h0M509.5 222.5h0M509.5 231.5h0M510.5 214.5h0M510.5 222.5h0M510.5 224.5h0M510.5 232.5h0M511.5 192.5h0M511.5 193.5h0M511.5 194.5h0M511.5 202.5h0M511.5 207.5h0M512.5 189.5h0M512.5 193.5h0M512.5 194.5h0M512.5 197.5h0M512.5 198.5h0M512.5 202.5h0M512.5 207.5h0M512.5 208.5h0M512.5 211.5h0M512.5 214.5h0M513.5 194.5h0M513.5 204.5h0M513.5 210.5h0M513.5 216.5h0M514.5 191.5h0M514.5 193.5h0M514.5 195.5h0M514.5 197.5h0M514.5 199.5h0M514.5 202.5h0M514.5 203.5h0M514.5 205.5h0M514.5 208.5h0M514.5 212.5h0M514.5 213.5h0M514.5 215.5h0M514.5 216.5h0M514.5 222.5h0M514.5 224.5h0M514.5 229.5h0M514.5 231.5h0M514.5 234.5h0M514.5 236.5h0M514.5 246.5h0M515.5 195.5h0M515.5 197.5h0M515.5 199.5h0M515.5 201.5h0M515.5 204.5h0M515.5 206.5h0M515.5 209.5h0M515.5 210.5h0M515.5 213.5h0M515.5 224.5h0M515.5 225.5h0M515.5 235.5h0M515.5 236.5h0M516.5 214.5h0M516.5 217.5h0M516.5 219.5h0M516.5 220.5h0M516.5 223.5h0M516.5 227.5h0M516.5 235.5h0M516.5 245.5h0M516.5 262.5h0M517.5 215.5h0M517.5 219.5h0M517.5 222.5h0M517.5 223.5h0M517.5 228.5h0M517.5 229.5h0M517.5 234.5h0M517.5 236.5h0M517.5 237.5h0M517.5 238.5h0M517.5 240.5h0M517.5 242.5h0M517.5 245.5h0M517.5 246.5h0M517.5 248.5h0M517.5 249.5h0M517.5 250.5h0M517.5 254.5h0M517.5 255.5h0M518.5 233.5h0M518.5 234.5h0M520.5 255.5h0M520.5 256.5h0M520.5 259.5h0M520.5 269.5h0M520.5 274.5h0M520.5 275.5h0M520.5 276.5h0"/>
<path d="M520.5 279.5h0M520.5 283.5h0M520.5 284.5h0M521.5 254.5h0M521.5 264.5h0M521.5 271.5h0M521.5 277.5h0M521.5 280.5h0M521.5 300.5h0M522.5 286.5h0M523.5 282.5h0M523.5 283.5h0M523.5 284.5h0M523.5 285.5h0M523.5 286.5h0M523.5 287.5h0M523.5 289.5h0M523.5 291.5h0M523.5 292.5h0M523.5 295.5h0M523.5 296.5h0M523.5 300.5h0M523.5 301.5h0M523.5 303.5h0M523.5 305.5h0M523.5 306.5h0M523.5 307.5h0M523.5 311.5h0M526.5 289.5h0M526.5 298.5h0M527.5 289.5h0M527.5 299.5h0M528.5 294.5h0M528.5 299.5h0M528.5 301.5h0M529.5 301.5h0M530.5 271.5h0M531.5 272.5h0M531.5 280.5h0M532.5 249.5h0M532.5 251.5h0M532.5 255.5h0M532.5 259.5h0M532.5 262.5h0M532.5 275.5h0M532.5 289.5h0M533.5 232.5h0M533.5 238.5h0M533.5 244.5h0M533.5 246.5h0M533.5 256.5h0M533.5 258.5h0M533.5 264.5h0M534.5 230.5h0M534.5 235.5h0M534.5 245.5h0M534.5 252.5h0M534.5 253.5h0M534.5 255.5h0M534.5 256.5h0M534.5 270.5h0M535.5 217.5h0M535.5 221.5h0M535.5 223.5h0M535.5 226.5h0M535.5 227.5h0M535.5 228.5h0M535.5 229.5h0M535.5 230.5h0M535.5 232.5h0M535.5 234.5h0M535.5 235.5h0M535.5 241.5h0M535.5 247.5h0M535.5 248.5h0M536.5 219.5h0M536.5 221.5h0M536.5 225.5h0M536.5 226.5h0M536.5 235.5h0M536.5 237.5h0M536.5 240.5h0M537.5 210.5h0M537.5 211.5h0M537.5 212.5h0M537.5 213.5h0M537.5 214.5h0M537.5 218.5h0M537.5 220.5h0M537.5 221.5h0M537.5 223.5h0M537.5 224.5h0M537.5 230.5h0M537.5 231.5h0M537.5 242.5h0M538.5 211.5h0M538.5 212.5h0M538.5 213.5h0M538.5 216.5h0M538.5 217.5h0M538.5 218.5h0M538.5 220.5h0M538.5 221.5h0M538.5 222.5h0M538.5 226.5h0M538.5 229.5h0M538.5 230.5h0M538.5 231.5h0M538.5 232.5h0M538.5 243.5h0M539.5 208.5h0M539.5 214.5h0M539.5 216.5h0M539.5 224.5h0M539.5 225.5h0M539.5 229.5h0M539.5 231.5h0M539.5 242.5h0M539.5 244.5h0M540.5 210.5h0M540.5 211.5h0M540.5 214.5h0M540.5 216.5h0M540.5 217.5h0M540.5 219.5h0M540.5 220.5h0M540.5 221.5h0M540.5 228.5h0M540.5 230.5h0M540.5 231.5h0M540.5 235.5h0M540.5 241.5h0M541.5 208.5h0M541.5 209.5h0M541.5 210.5h0M541.5 211.5h0M541.5 213.5h0M541.5 216.5h0M541.5 218.5h0M541.5 223.5h0M541.5 225.5h0M541.5 229.5h0M541.5 232.5h0M541.5 239.5h0M541.5 249.5h0M542.5 210.5h0M542.5 218.5h0M542.5 219.5h0M542.5 223.5h0M542.5 225.5h0M542.5 226.5h0M542.5 228.5h0M542.5 231.5h0M542.5 239.5h0M542.5 240.5h0M543.5 222.5h0M543.5 225.5h0M543.5 228.5h0M543.5 243.5h0M543.5 247.5h0M544.5 249.5h0M544.5 258.5h0M545.5 239.5h0M545.5 244.5h0M545.5 247.5h0M545.5 289.5h0M546.5 283.5h0M546.5 293.5h0M546.5 294.5h0M547.5 306.5h0M547.5 318.5h0M548.5 283.5h0M548.5 287.5h0M548.5 298.5h0M548.5 302.5h0M548.5 309.5h0M548.5 318.5h0M548.5 321.5h0M549.5 286.5h0M549.5 314.5h0M549.5 321.5h0M549.5 327.5h0M550.5 295.5h0M551.5 297.5h0M551.5 299.5h0M551.5 304.5h0M551.5 307.5h0M551.5 311.5h0M551.5 316.5h0M551.5 320.5h0M551.5 323.5h0M552.5 298.5h0M552.5 305.5h0M552.5 307.5h0M552.5 312.5h0M552.5 322.5h0M553.5 306.5h0M553.5 310.5h0M553.5 312.5h0M553.5 315.5h0M553.5 316.5h0M553.5 317.5h0M553.5 318.5h0M553.5 319.5h0M553.5 322.5h0M553.5 324.5h0M553.5 327.5h0M553.5 328.5h0"/>
</g>
</g>
<g class="ax">
<line x1="113.5" y1="427.5" x2="113.5" y2="432.5"/>
<line x1="175.5" y1="427.5" x2="175.5" y2="432.5"/>
<line x1="236.5" y1="427.5" x2="236.5" y2="432.5"/>
<line x1="298.5" y1="427.5" x2="298.5" y2="432.5"/>
<line x1="359.5" y1="427.5" x2="359.5" y2="432.5"/>
<line x1="420.5" y1="427.5" x2="420.5" y2="432.5"/>
<line x1="482.5" y1="427.5" x2="482.5" y2="432.5"/>
<line x1="543.5" y1="427.5" x2="543.5" y2="432.5"/>
<line x1="75.5" y1="374.5" x2="80.5" y2="374.5"/>
<line x1="75.5" y1="316.5" x2="80.5" y2="316.5"/>
<line x1="75.5" y1="259.5" x2="80.5" y2="259.5"/>
<line x1="75.5" y1="201.5" x2="80.5" y2="201.5"/>
<line x1="75.5" y1="144.5" x2="80.5" y2="144.5"/>
<line x1="75.5" y1="86.5" x2="80.5" y2="86.5"/>
<rect x="80.5" y="58.5" width="496" height="369" stroke-linejoin="miter"/>
</g>
<text id="x0" class="t" x="89.12 97.68 102.10 110.93 119.38 128.46" y="447.73">2.4553</text>
<text id="x1" class="t" x="150.90 159.72 164.14 172.72 181.67 190.25" y="447.73">2.4554</text>
<text id="x2" class="t" x="211.93 220.74 225.16 233.74 242.57 251.27" y="447.73">2.4555</text>
<text id="x3" class="t" x="274.09 282.65 287.07 295.90 304.48 313.56" y="447.73">2.4556</text>
<text id="x4" class="t" x="335.00 343.81 348.11 356.69 365.64 374.22" y="447.73">2.4557</text>
<text id="x5" class="t" x="395.90 404.71 409.13 417.71 426.79 435.49" y="447.73">2.4558</text>
<text id="x6" class="t" x="457.93 466.75 471.17 479.87 488.45 497.53" y="447.73">2.4559</text>
<text id="x7" class="t" x="518.97 527.78 532.08 540.91 549.61 558.56" y="447.73">2.4560</text>
<text id="y14" class="t" x="53.12 60.81" y="379.68">14</text>
<text id="y16" class="t" x="53.12 60.94" y="321.58">16</text>
<text id="y18" class="t" x="53.12 60.94" y="263.73">18</text>
<text id="y20" class="t" x="53.12 61.69" y="206.63">20</text>
<text id="y22" class="t" x="53.12 61.69" y="148.53">22</text>
<text id="y24" class="t" x="53.12 61.69" y="90.68">24</text>
<text id="xlab" class="t" x="312.95 317.38 321.23 334.74" y="466.72">time</text>
<text id="off" class="t" x="549.92 557.86 566.41" y="465.58">1e6</text>
<text id="ylab" class="t" text-anchor="middle" x="42.66" y="244.40" dx="1 -1 -0.25 0.25" transform="rotate(-90 42.66 244.40)">flux</text>
<text id="title" class="tt" x="204.99 214.77 224.91 240.74 251.96 262.60 272.84 277.54 288.09 298.49 309.04 319.84 330.49 340.91 346.24 356.66 367.32 373.13 383.79 394.46 405.01 415.54 426.21 436.38 441.96" y="48.77">1SWASPJ074132.53-433239.0</text>
</svg>
</body>
</html>
